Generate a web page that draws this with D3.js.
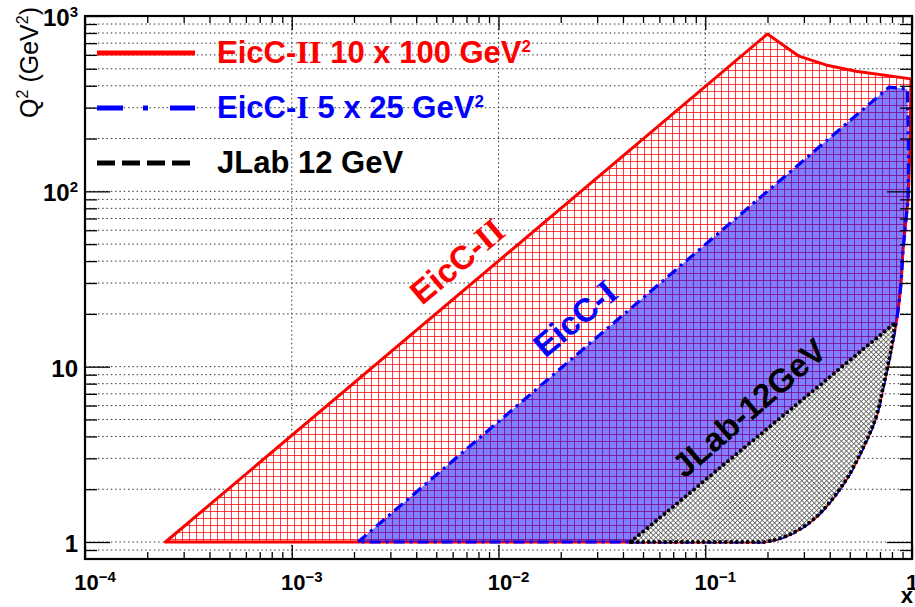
<!DOCTYPE html>
<html>
<head>
<meta charset="utf-8">
<script src="https://d3js.org/d3.v7.min.js"></script>
<style>
    body { margin: 0; background: #fff; }
    text { font-family: "Liberation Sans", Arial, sans-serif; }
</style>
</head>
<body>
<div id="chart"></div>
<script>
// boundaries, as [x, Q2] pairs
var eiccIITop = [[2.45e-4, 1], [0.2, 790], [0.284, 590], [0.383, 526], [0.536, 484], [0.989, 438]];
var eiccIIRight = [[0.989, 438], [0.977, 172], [0.957, 89]];
var eiccITop = [[0.00209, 1], [0.775, 393], [0.95, 383], [0.962, 172], [0.957, 89]];
var lowerCurve = [[0.957, 89], [0.905, 46], [0.885, 30], [0.847, 19.2], [0.792, 12.5], [0.732, 8.07],
    [0.670, 5.17], [0.573, 3.35], [0.469, 2.17], [0.344, 1.39], [0.263, 1.12], [0.211, 1.02], [0.19, 1]];
var jlabTop = [[0.0435, 1], [0.83, 17.8]];

var xMajor = [1e-4, 1e-3, 1e-2, 1e-1, 1];
var xTickSup = ["\u22124", "\u22123", "\u22122", "\u22121", ""];
var yMajor = [1, 10, 100, 1000];
var yTickBase = ["1", "10", "10", "10"];
var yTickSup = ["", "", "2", "3"];

var legendNames = ["EicC-", "EicC-", "JLab 12 GeV"];
var legendRoman = ["II", "I", ""];
var legendRest = [" 10 x 100 GeV", " 5 x 25 GeV", ""];
var legendSup = ["2", "2", ""];

var W = 915, H = 607;
var pL = 85, pR = 912, pT = 16, pB = 559;

var svg = d3.select("#chart").append("svg")
    .attr("width", W).attr("height", H);

var x = d3.scaleLog().domain([1e-4, 1]).range([pL, pR]);
var y = d3.scaleLog().domain([0.8, 1000]).range([pB, pT]);

// minor tick values
var xMinor = [], yMinor = [0.9];
[1e-4, 1e-3, 1e-2, 1e-1].forEach(function (d) {
    for (var k = 2; k <= 9; k++) xMinor.push(d * k);
});
[1, 10, 100].forEach(function (d) {
    for (var k = 2; k <= 9; k++) yMinor.push(d * k);
});

var defs = svg.append("defs");
var hatch = defs.append("pattern").attr("id", "redGrid")
    .attr("patternUnits", "userSpaceOnUse").attr("width", 7).attr("height", 7);
hatch.append("rect").attr("width", 7).attr("height", 7).attr("fill", "#fff");
hatch.append("path").attr("d", "M0,0.5H7M0.5,0V7")
    .attr("stroke", "#ff0000").attr("stroke-opacity", 0.75).attr("stroke-width", 1);

var cross = defs.append("pattern").attr("id", "crossHatch")
    .attr("patternUnits", "userSpaceOnUse").attr("width", 3.5).attr("height", 3.5)
    .attr("patternTransform", "rotate(45)");
cross.append("rect").attr("width", 3.5).attr("height", 3.5).attr("fill", "#fff");
cross.append("path").attr("d", "M0,0.4H3.5M0.4,0V3.5")
    .attr("stroke", "#555").attr("stroke-width", 0.8);

// grid
var grid = svg.append("g").attr("stroke", "#333").attr("stroke-width", 1)
    .attr("stroke-dasharray", "1.5,2.8");
grid.selectAll(".hg").data(yMajor.concat(yMinor).filter(function (d) { return d < 1000; }))
    .enter().append("line")
    .attr("x1", pL).attr("x2", pR)
    .attr("y1", function (d) { return y(d); }).attr("y2", function (d) { return y(d); });
grid.selectAll(".vg").data([1e-3, 1e-2, 1e-1]).enter().append("line")
    .attr("y1", pT).attr("y2", pB)
    .attr("x1", function (d) { return x(d); }).attr("x2", function (d) { return x(d); });

var line = d3.line().x(function (d) { return x(d[0]); }).y(function (d) { return y(d[1]); });
var smooth = d3.line().x(function (d) { return x(d[0]); }).y(function (d) { return y(d[1]); })
    .curve(d3.curveCatmullRom.alpha(0.5));

// straight part, then the smooth lower-right edge, then back along Q2 = 1
function region(straight, curve) {
    return line(straight) + "L" + smooth(curve).slice(1) + "Z";
}

var redD = region(eiccIITop.concat(eiccIIRight.slice(1, -1)), lowerCurve);
var blueD = region(eiccITop.slice(0, -1), lowerCurve);
var jlabD = region(jlabTop, [jlabTop[1]].concat(lowerCurve.filter(function (d) { return d[1] < jlabTop[1][1]; })));

svg.append("path").attr("d", redD).attr("fill", "url(#redGrid)");
svg.append("path").attr("d", redD)
    .attr("fill", "none").attr("stroke", "#ff0000").attr("stroke-width", 3)
    .attr("stroke-linejoin", "round");
svg.append("path").attr("d", blueD)
    .attr("fill", "#0000ff").attr("fill-opacity", 0.5);
svg.append("path").attr("d", blueD)
    .attr("fill", "none").attr("stroke", "#0000ff").attr("stroke-width", 3.2)
    .attr("stroke-dasharray", "11,5,3,5");
svg.append("path").attr("d", jlabD).attr("fill", "url(#crossHatch)");
svg.append("path").attr("d", jlabD)
    .attr("fill", "none").attr("stroke", "#000").attr("stroke-width", 4)
    .attr("stroke-linecap", "round").attr("stroke-dasharray", "0,5.5");

// region labels
function roman(t, base, rom, size) {
    t.append("tspan").text(base);
    if (rom) t.append("tspan").attr("font-family", "'Liberation Serif', 'Times New Roman', serif")
        .attr("font-size", size * 1.05).text(rom);
}
var lab1 = svg.append("text").attr("transform", "translate(457,261) rotate(-40)")
    .attr("text-anchor", "middle").attr("dominant-baseline", "central")
    .attr("font-size", 33).attr("font-weight", "bold").attr("fill", "#ff0000");
roman(lab1, "EicC-", "II", 33);
var lab2 = svg.append("text").attr("transform", "translate(575,318) rotate(-40)")
    .attr("text-anchor", "middle").attr("dominant-baseline", "central")
    .attr("font-size", 33).attr("font-weight", "bold").attr("fill", "#0000ff");
roman(lab2, "EicC-", "I", 33);
svg.append("text").attr("transform", "translate(749,408) rotate(-41)")
    .attr("text-anchor", "middle").attr("dominant-baseline", "central")
    .attr("font-size", 33).attr("font-weight", "bold").attr("fill", "#000")
    .text("JLab-12GeV");

// legend
var legColors = ["#ff0000", "#0000ff", "#000"];
var legDash = [null, "26,20,5,22", "18,7"];
var legY = [53, 108, 163];
legendNames.forEach(function (n, i) {
    svg.append("line").attr("x1", 97).attr("x2", 195)
        .attr("y1", legY[i]).attr("y2", legY[i])
        .attr("stroke", legColors[i]).attr("stroke-width", 5)
        .attr("stroke-dasharray", legDash[i]);
    var t = svg.append("text").attr("x", 217).attr("y", legY[i] + 10)
        .attr("font-size", 31).attr("font-weight", "bold").attr("fill", legColors[i]);
    roman(t, n, legendRoman[i], 31);
    if (legendRest[i]) t.append("tspan").text(legendRest[i]);
    if (legendSup[i]) t.append("tspan").attr("font-size", 17).attr("dy", -11).text(legendSup[i]);
});

// ticks through d3 axes
function ticks(axisFn, values, size, tr) {
    svg.append("g").attr("transform", tr)
        .call(axisFn.tickValues(values).tickSize(size).tickFormat(""))
        .call(function (g) {
            g.select(".domain").remove();
            g.selectAll("line").attr("stroke", "#000").attr("stroke-width", 1.3);
        });
}
ticks(d3.axisBottom(x), xMinor, -7, "translate(0," + pB + ")");
ticks(d3.axisBottom(x), xMajor, -14, "translate(0," + pB + ")");
ticks(d3.axisTop(x), xMinor, -7, "translate(0," + pT + ")");
ticks(d3.axisTop(x), xMajor, -14, "translate(0," + pT + ")");
ticks(d3.axisLeft(y), yMinor, -12, "translate(" + pL + ",0)");
ticks(d3.axisLeft(y), yMajor, -25, "translate(" + pL + ",0)");
ticks(d3.axisRight(y), yMinor, -12, "translate(" + pR + ",0)");
ticks(d3.axisRight(y), yMajor, -25, "translate(" + pR + ",0)");

svg.append("rect").attr("x", pL).attr("y", pT)
    .attr("width", pR - pL).attr("height", pB - pT)
    .attr("fill", "none").attr("stroke", "#000").attr("stroke-width", 2.2);

// tick labels
xMajor.forEach(function (d, i) {
    var t = svg.append("text").attr("x", x(d) + (xTickSup[i] ? 10 : 0)).attr("y", 590)
        .attr("text-anchor", "middle").attr("font-size", 22).attr("font-weight", "bold");
    t.append("tspan").text(d === 1 ? "1" : "10");
    if (xTickSup[i]) t.append("tspan").attr("font-size", 15).attr("dy", -8).text(xTickSup[i]);
});
yMajor.forEach(function (d, i) {
    var t = svg.append("text").attr("x", 78).attr("y", y(d) + 10)
        .attr("text-anchor", "end").attr("font-size", 24).attr("font-weight", "bold");
    t.append("tspan").text(yTickBase[i]);
    if (yTickSup[i]) t.append("tspan").attr("font-size", 15).attr("dy", -9).text(yTickSup[i]);
});

// axis titles
svg.append("text").attr("x", 913).attr("y", 603).attr("text-anchor", "end")
    .attr("font-size", 22).attr("font-weight", "bold").text("x");
var yt = svg.append("text").attr("transform", "translate(38,7) rotate(-90)")
    .attr("text-anchor", "end").attr("font-size", 25);
yt.append("tspan").text("Q");
yt.append("tspan").attr("font-size", 16).attr("dy", -10).text("2");
yt.append("tspan").attr("dy", 10).text(" (GeV");
yt.append("tspan").attr("font-size", 16).attr("dy", -10).text("2");
yt.append("tspan").attr("dy", 10).text(")");
</script>
</body>
</html>
